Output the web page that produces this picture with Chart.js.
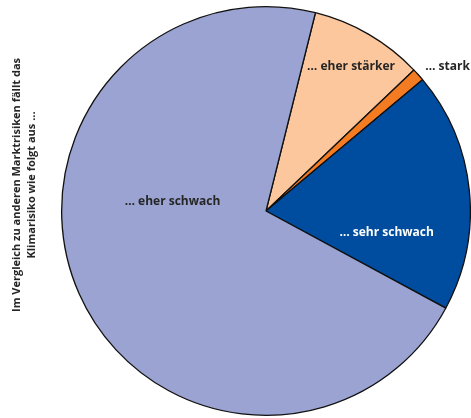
<!DOCTYPE html>
<html>
<head>
<meta charset="utf-8">
<script src="https://cdn.jsdelivr.net/npm/chart.js@4.4.0/dist/chart.umd.min.js"></script>
<style>
  html, body { margin: 0; padding: 0; background: #fff; }
  #wrap { position: relative; width: 471px; height: 418px; overflow: hidden; }
  #c { position: absolute; left: 0; top: 0; }
  #ytitle {
    position: absolute; left: 23px; top: 185px; width: 320px;
    transform: translate(-50%, -50%) rotate(-90deg);
    text-align: center; font: bold 11px "Open Sans", sans-serif; line-height: 15px; color: #262626;
    white-space: nowrap;
  }
</style>
</head>
<body>
<div id="wrap">
  <canvas id="c" width="471" height="418"></canvas>
  <div id="ytitle">Im Vergleich zu anderen Marktrisiken fällt das<br>Klimarisiko wie folgt aus ...</div>
</div>
<script>
// Data (clockwise from the start angle)
const categories = ["… eher stärker", "… stark", "… sehr schwach", "… eher schwach"];
const shares = [9, 1, 19, 71];

// Styles
const colors = ["#FCC79C", "#F37B22", "#004C9E", "#9AA3D1"];
const labelColors = ["#262626", "#262626", "#ffffff", "#262626"];
// label placement: angle (deg, clockwise from 12 o'clock) and distance as fraction of radius
const labelAngles = [30.5, 51.5, 100.3, 276];
const labelDist = [0.82, 1.135, 0.60, 0.46];

const labelPlugin = {
  id: 'sliceLabels',
  afterDatasetsDraw(chart) {
    const ctx = chart.ctx;
    const meta = chart.getDatasetMeta(0);
    ctx.save();
    ctx.font = 'bold 12px "Open Sans", sans-serif';
    ctx.textAlign = 'center';
    ctx.textBaseline = 'middle';
    meta.data.forEach((arc, i) => {
      const a = labelAngles[i] * Math.PI / 180;
      const d = arc.outerRadius * labelDist[i];
      const x = arc.x + d * Math.sin(a);
      const y = arc.y - d * Math.cos(a);
      ctx.fillStyle = labelColors[i];
      ctx.fillText(categories[i], x, y);
    });
    ctx.restore();
  }
};

new Chart(document.getElementById('c'), {
  type: 'pie',
  data: {
    labels: categories,
    datasets: [{
      data: shares,
      backgroundColor: colors,
      borderColor: '#111111',
      borderWidth: 1.3,
      borderAlign: 'center'
    }]
  },
  options: {
    responsive: false,
    animation: false,
    rotation: 14,
    layout: { padding: { left: 61, right: 0, top: 6, bottom: 2 } },
    plugins: {
      legend: { display: false },
      tooltip: { enabled: false }
    }
  },
  plugins: [labelPlugin]
});
</script>
</body>
</html>
